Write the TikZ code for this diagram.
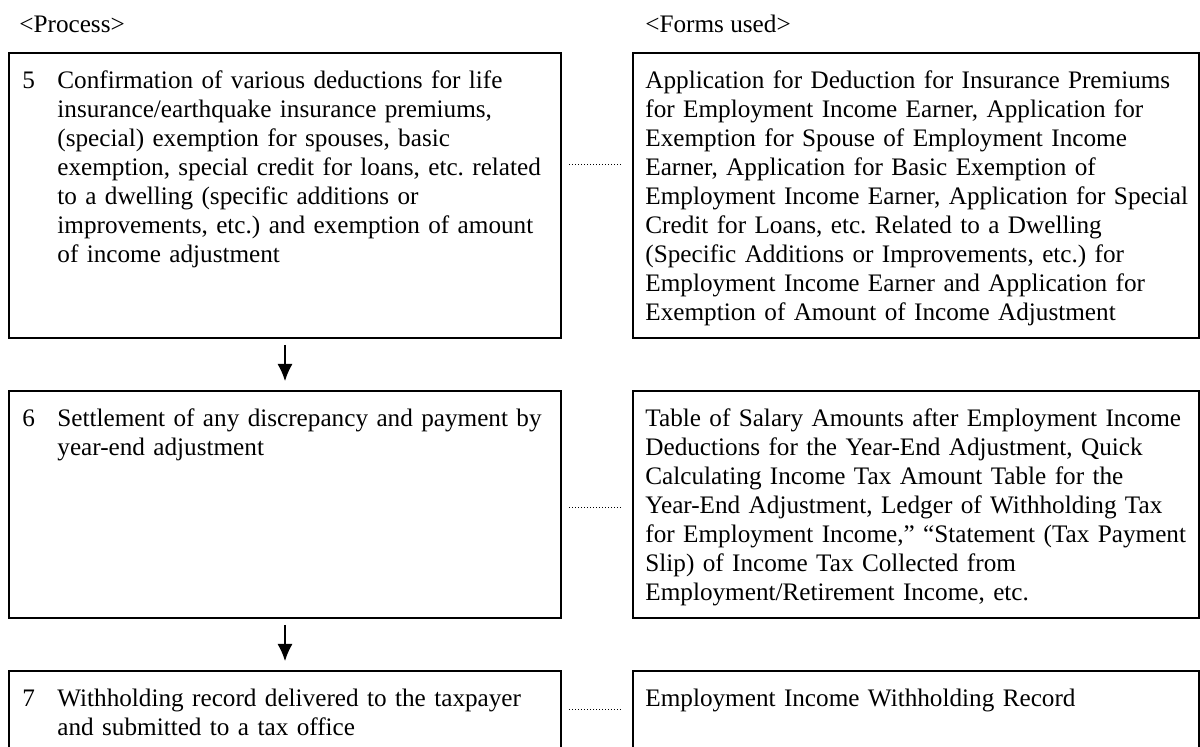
\documentclass[tikz,border=0pt]{standalone}
\usepackage{fontspec}
\setmainfont{Liberation Serif}
\usetikzlibrary{arrows.meta,positioning}
\frenchspacing
\begin{document}
\begin{tikzpicture}[x=0.5pt, y=-0.5pt,
  every node/.style={font=\fontsize{12.6}{14.45}\selectfont},
  pbox/.style={draw, line width=1pt, inner sep=0pt, anchor=north west, minimum width=276pt},
  fbox/.style={draw, line width=1pt, inner sep=0pt, anchor=north west, minimum width=283pt},
  txt/.style={inner sep=0pt, anchor=base west, align=left},
  flow/.style={-{Latex[length=8.5pt,width=7.5pt]}, line width=0.6pt, shorten <=3pt, shorten >=4.5pt},
  link/.style={line width=0.5pt, dash pattern=on 0.5pt off 1pt, shorten <=3.5pt, shorten >=4.5pt}]
  \useasboundingbox (0,0) rectangle (1200,747);
  % headings
  \node[txt] (hp) at (19,33) {<Process>};
  \node[txt] (hf) at (645,33) {<Forms used>};
  % process boxes
  \node[pbox, minimum height=142.5pt] (p5) at (8,52) {};
  \node[pbox, minimum height=113.5pt] (p6) at (8,390) {};
  \node[pbox, minimum height=50pt] (p7) at (8,670) {};
  % forms boxes
  \node[fbox, minimum height=142.5pt] (f5) at (632,52) {};
  \node[fbox, minimum height=113.5pt] (f6) at (632,390) {};
  \node[fbox, minimum height=50pt] (f7) at (632,670) {};
  % numbers
  \node[txt] (n5) at ([shift={(14,37)}]p5.north west) {5};
  \node[txt] (n6) at ([shift={(14,37)}]p6.north west) {6};
  \node[txt] (n7) at ([shift={(14,37)}]p7.north west) {7};
  % process texts
  \node[txt, text width=250pt] (t5) at ([shift={(49,37)}]p5.north west)
    {Confirmation of various deductions for life\\
     insurance/earthquake insurance premiums,\\
     (special) exemption for spouses, basic\\
     exemption, special credit for loans, etc. related\\
     to a dwelling (specific additions or\\
     improvements, etc.) and exemption of amount\\
     of income adjustment};
  \node[txt, text width=250pt] (t6) at ([shift={(49,37)}]p6.north west)
    {Settlement of any discrepancy and payment by\\
     year-end adjustment};
  \node[txt, text width=250pt] (t7) at ([shift={(49,37)}]p7.north west)
    {Withholding record delivered to the taxpayer\\
     and submitted to a tax office};
  % forms texts
  \node[txt, text width=276pt] (u5) at ([shift={(13,37)}]f5.north west)
    {Application for Deduction for Insurance Premiums\\
     for Employment Income Earner, Application for\\
     Exemption for Spouse of Employment Income\\
     Earner, Application for Basic Exemption of\\
     Employment Income Earner, Application for Special\\
     Credit for Loans, etc. Related to a Dwelling\\
     (Specific Additions or Improvements, etc.) for\\
     Employment Income Earner and Application for\\
     Exemption of Amount of Income Adjustment};
  \node[txt, text width=276pt] (u6) at ([shift={(13,37)}]f6.north west)
    {Table of Salary Amounts after Employment Income\\
     Deductions for the Year-End Adjustment, Quick\\
     Calculating Income Tax Amount Table for the\\
     Year-End Adjustment, Ledger of Withholding Tax\\
     for Employment Income,” “Statement (Tax Payment\\
     Slip) of Income Tax Collected from\\
     Employment/Retirement Income, etc.};
  \node[txt, text width=276pt] (u7) at ([shift={(13,37)}]f7.north west)
    {Employment Income Withholding Record};
  % arrows down
  \draw[flow] (p5.south) -- (p6.north);
  \draw[flow] (p6.south) -- (p7.north);
  % dotted links
  \draw[link] ([yshift=-56.5pt]p5.north east) -- ([yshift=-56.5pt]f5.north west);
  \draw[link] ([yshift=-59pt]p6.north east) -- ([yshift=-59pt]f6.north west);
  \draw[link] ([yshift=-20pt]p7.north east) -- ([yshift=-20pt]f7.north west);
\end{tikzpicture}
\end{document}
